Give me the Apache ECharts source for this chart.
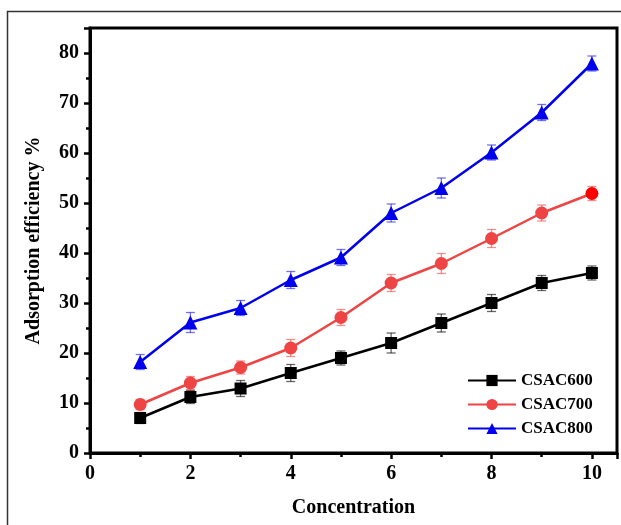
<!DOCTYPE html>
<html>
<head>
<meta charset="utf-8">
<script src="https://cdn.jsdelivr.net/npm/echarts@6/dist/echarts.min.js"></script>
<style>
  html, body { margin: 0; padding: 0; background: #fff; }
  #main { width: 621px; height: 525px; }
</style>
</head>
<body>
<div id="main"></div>
<script>
// 数据
var concentration = [1, 2, 3, 4, 5, 6, 7, 8, 9, 10]
var csac600 = [7.0, 11.2, 12.9, 16.0, 19.0, 22.0, 26.0, 30.0, 34.0, 36.0]
var csac600Err = [1.1, 1.3, 1.6, 1.7, 1.4, 2.0, 1.8, 1.7, 1.5, 1.4]
var csac700 = [9.7, 14.0, 17.1, 21.0, 27.1, 34.0, 37.9, 42.9, 48.0, 51.9]
var csac700Err = [1.0, 1.3, 1.3, 1.7, 1.6, 1.7, 2.0, 1.8, 1.6, 1.4]
var csac800 = [18.2, 26.1, 29.0, 34.6, 39.1, 48.0, 53.0, 60.1, 68.1, 77.9]
var csac800Err = [1.5, 2.0, 1.5, 1.7, 1.6, 1.8, 2.0, 1.5, 1.6, 1.5]
var xTicks = [0, 2, 4, 6, 8, 10]
var yTicks = [0, 10, 20, 30, 40, 50, 60, 70, 80]

var serif = 'Liberation Serif'
var chart = echarts.init(document.getElementById('main'))

function pairs (ys) {
  return concentration.map(function (x, i) { return [x, ys[i]] })
}
function errData (ys, es) {
  return concentration.map(function (x, i) { return [x, ys[i] - es[i], ys[i] + es[i]] })
}
// 误差棒
function errSeries (ys, es, color) {
  return {
    type: 'custom',
    silent: true,
    z: 1,
    data: errData(ys, es),
    renderItem: function (params, api) {
      var lo = api.coord([api.value(0), api.value(1)])
      var hi = api.coord([api.value(0), api.value(2)])
      var w = 4.5
      var st = { stroke: color, lineWidth: 1.3 }
      return {
        type: 'group',
        children: [
          { type: 'line', shape: { x1: lo[0], y1: lo[1], x2: hi[0], y2: hi[1] }, style: st },
          { type: 'line', shape: { x1: lo[0] - w, y1: lo[1], x2: lo[0] + w, y2: lo[1] }, style: st },
          { type: 'line', shape: { x1: hi[0] - w, y1: hi[1], x2: hi[0] + w, y2: hi[1] }, style: st }
        ]
      }
    }
  }
}
function lineSeries (name, ys, color, symbol, size) {
  return {
    name: name,
    type: 'line',
    z: 3,
    data: pairs(ys),
    symbol: symbol,
    symbolSize: size,
    color: color,
    lineStyle: { color: color, width: 2.5 },
    itemStyle: { color: color, opacity: 1 }
  }
}

var red700 = lineSeries('CSAC700', csac700, '#ee4444', 'circle', 13)
red700.data[9] = { value: red700.data[9], itemStyle: { color: '#ff0000' } }

chart.setOption({
  animation: false,
  graphic: [{
    type: 'rect',
    shape: { x: 7.5, y: 11.5, width: 700, height: 600 },
    style: { fill: 'none', stroke: '#333', lineWidth: 1.5 },
    z: -1
  }],
  grid: {
    left: 90,
    right: 4,
    top: 28,
    bottom: 72,
    show: true,
    borderColor: '#000',
    borderWidth: 3
  },
  legend: {
    orient: 'vertical',
    left: 462,
    top: 367,
    itemWidth: 48,
    itemHeight: 14,
    itemGap: 7,
    data: ['CSAC600', 'CSAC700', 'CSAC800'],
    textStyle: { fontFamily: serif, fontWeight: 'bold', fontSize: 17, color: '#000' }
  },
  xAxis: {
    type: 'value',
    min: 0,
    max: 10.5,
    interval: 2,
    name: 'Concentration',
    nameLocation: 'middle',
    nameGap: 45,
    nameTextStyle: { fontFamily: serif, fontWeight: 'bold', fontSize: 20, color: '#000' },
    axisLine: { lineStyle: { color: '#000', width: 3 } },
    axisTick: { length: 6, lineStyle: { color: '#000', width: 2.5 } },
    minorTick: { show: true, splitNumber: 2, length: 4, lineStyle: { color: '#000', width: 2.5 } },
    splitLine: { show: false },
    axisLabel: {
      margin: 11,
      fontFamily: serif,
      fontWeight: 'bold',
      fontSize: 20,
      color: '#000',
      formatter: function (v) { return xTicks.indexOf(v) >= 0 ? String(v) : '' }
    }
  },
  yAxis: {
    type: 'value',
    min: 0,
    max: 85,
    interval: 10,
    name: 'Adsorption efficiency %',
    nameLocation: 'middle',
    nameGap: 46,
    nameTextStyle: { fontFamily: serif, fontWeight: 'bold', fontSize: 20, color: '#000' },
    axisLine: { show: true, lineStyle: { color: '#000', width: 3 } },
    axisTick: { show: true, length: 6, lineStyle: { color: '#000', width: 2.5 } },
    minorTick: { show: true, splitNumber: 2, length: 4, lineStyle: { color: '#000', width: 2.5 } },
    splitLine: { show: false },
    axisLabel: {
      margin: 11,
      fontFamily: serif,
      fontWeight: 'bold',
      fontSize: 20,
      color: '#000',
      formatter: function (v) { return yTicks.indexOf(v) >= 0 ? String(v) : '' }
    }
  },
  series: [
    errSeries(csac600, csac600Err, 'rgba(0,0,0,0.6)'),
    errSeries(csac700, csac700Err, 'rgba(238,68,68,0.6)'),
    errSeries(csac800, csac800Err, 'rgba(0,0,230,0.55)'),
    lineSeries('CSAC600', csac600, '#000000', 'rect', 12),
    red700,
    lineSeries('CSAC800', csac800, '#0000ee', 'triangle', 14)
  ]
})
</script>
</body>
</html>
